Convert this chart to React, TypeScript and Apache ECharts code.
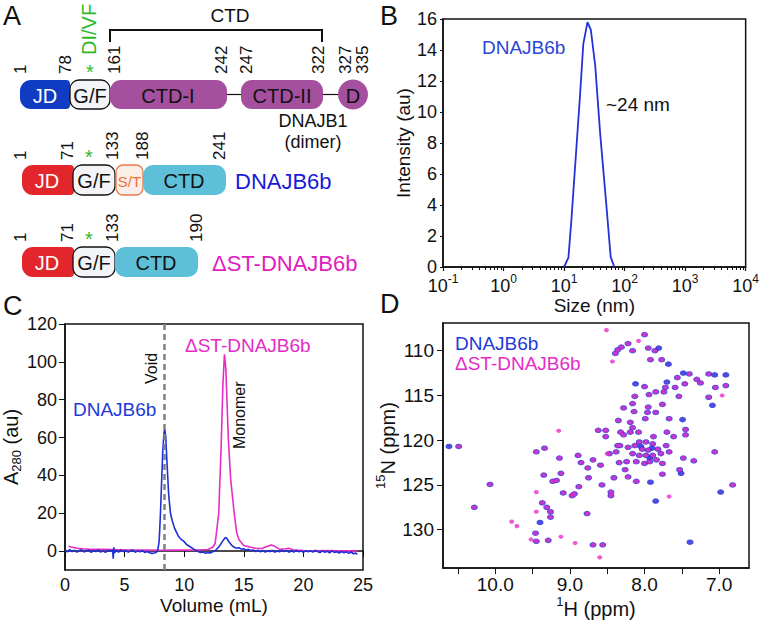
import React, { useEffect, useRef } from 'react';
import * as echarts from 'echarts';

const FONT = '"Liberation Sans", Arial, Helvetica, sans-serif';

// ---------- Panel A : domain maps ----------
const b1Residues = ['1', '78', '161', '242', '247', '322', '327', '335'];
const b6Residues = ['1', '71', '133', '188', '241'];
const dstResidues = ['1', '71', '133', '190'];
const b1DomainNames = ['JD', 'G/F', 'CTD-I', 'CTD-II', 'D'];
const b6DomainNames = ['JD', 'G/F', 'S/T', 'CTD'];
const dstDomainNames = ['JD', 'G/F', 'CTD'];
const rowNames = ['DNAJB1', '(dimer)', 'DNAJB6b', '\u0394ST-DNAJB6b'];

// ---------- Panel B : DLS ----------
const dlsSize = [10, 11.8, 13.2, 18.3, 20.8, 24.4, 27.7, 32.7, 39.5, 50.7, 58.9, 67.6];
const dlsIntensity = [0, 0.6, 3.0, 11.0, 14.4, 15.8, 15.3, 13.0, 8.6, 3.7, 0.65, 0];
const dlsMajorTicks = [0.1, 1, 10, 100, 1000, 10000];
const dlsYTicks = [0, 2, 4, 6, 8, 10, 12, 14, 16];

// ---------- Panel C : SEC ----------
const secYTicks = [0, 20, 40, 60, 80, 100, 120];
const voidVolume = 8.37;
const secDnajb6b: [number, number][] = [
  [0, 0.5], [0.2, -0.4], [0.4, 0.8], [0.6, -0.3], [0.8, 0.4], [1.0, -0.6], [1.2, 0.3], [1.4, 0.7], [1.6, -0.5], [1.8, 0.2],
  [2.0, 0.6], [2.2, -0.7], [2.4, 0.3], [2.6, -0.2], [2.8, 0.6], [3.0, -0.5], [3.2, 0.1], [3.4, -0.7], [3.6, 0.4], [3.8, -0.1],
  [4.0, 0.5], [4.05, -4.0], [4.1, 2.0], [4.15, -1.0], [4.3, 0.3], [4.5, -0.5], [4.7, 0.6], [4.9, -0.3], [5.1, 0.4], [5.3, -0.6],
  [5.5, 0.2], [5.7, 0.5], [5.9, -0.6], [6.1, 0.1], [6.3, -0.4], [6.5, 0.3], [6.7, -0.7], [6.9, -0.2], [7.1, -0.9], [7.3, -1.2],
  [7.5, -1.0], [7.7, -0.5], [7.8, 1.0], [7.9, 5], [8.0, 18], [8.1, 35], [8.2, 52], [8.3, 62], [8.37, 64.5], [8.45, 61],
  [8.55, 48], [8.7, 30], [8.85, 20], [9.0, 16], [9.2, 12], [9.5, 8], [9.7, 6.5], [10.0, 5], [10.2, 3.5], [10.5, 2.3],
  [10.8, 1.0], [11.0, 0.3], [11.2, -0.3], [11.4, -0.8], [11.6, -0.5], [11.8, -1.2], [12.0, -0.8], [12.2, -1.0], [12.4, -0.3], [12.6, 0.2],
  [12.8, 1.5], [13.0, 3], [13.2, 5], [13.4, 6.8], [13.5, 7.2], [13.6, 6.5], [13.8, 4.5], [14.0, 3], [14.2, 2], [14.4, 1.5],
  [14.6, 1.8], [14.8, 1.0], [15.0, 1.2], [15.2, 0.5], [15.4, 0.9], [15.6, 0.3], [15.8, 0.6], [16.0, -0.2], [16.2, 0.5], [16.4, -0.4],
  [16.6, 0.3], [16.8, -0.5], [17.0, 0.2], [17.2, -0.3], [17.4, 0.4], [17.6, -0.6], [17.8, 0.1], [18.0, -0.4], [18.2, 0.5], [18.4, -0.2],
  [18.6, 0.3], [18.8, -0.6], [19.0, 0.2], [19.2, -0.5], [19.4, 0.4], [19.6, -0.3], [19.8, 0.1], [20.0, -0.7], [20.2, 0.3], [20.4, -0.4],
  [20.6, 0.2], [20.8, -0.5], [21.0, 0.4], [21.2, -0.3], [21.4, -0.8], [21.6, 0.2], [21.8, -0.6], [22.0, -0.1], [22.2, -0.9], [22.4, 0.1],
  [22.6, -0.7], [22.8, -0.3], [23.0, -1.0], [23.2, -0.2], [23.4, -0.9], [23.6, -0.4], [23.8, -1.2], [24.0, -0.5], [24.2, -1.4], [24.4, -1.0],
  [24.5, -1.8],
];
const secDeltaST: [number, number][] = [
  [0.3, 2.5], [0.5, 2.2], [1, 1.5], [1.5, 1.2], [2, 1.0], [3, 0.9], [4, 0.8], [5, 0.6], [6, 0.5], [7, 0.5],
  [8, 0.4], [9, 0.5], [10, 0.6], [11, 0.5], [12, 0.8], [12.4, 2], [12.6, 4], [12.9, 20], [13.1, 55], [13.25, 88],
  [13.38, 104], [13.5, 96], [13.7, 60], [13.9, 38], [14.2, 20], [14.4, 10], [14.6, 6], [15.0, 3], [15.6, 2], [16, 1.5],
  [16.5, 1.4], [17, 2.5], [17.3, 3.2], [17.6, 2.5], [18, 1], [18.5, 1.2], [18.8, 1.5], [19.2, 0.5], [20, 0.3], [21, 0.2],
  [22, 0.3], [23, 0.1], [24, 0.2], [24.5, 0.1],
];

// ---------- Panel D : HSQC peaks [1H ppm, 15N ppm] ----------
const nmrHLabels = [10, 9, 8, 7];
const nmrHTicks = [10.5, 10, 9.5, 9, 8.5, 8, 7.5, 7];
const nmrNTicks = [110, 115, 120, 125, 130];
const nmrShared: [number, number][] = [
  [8.00, 108.2], [8.36, 109.9], [8.31, 109.6], [8.22, 109.2], [8.16, 110.0], [8.39, 110.3], [7.95, 109.7], [7.86, 110.0], [7.92, 111.0], [7.77, 111.0],
  [7.56, 113.0], [7.40, 112.6], [7.30, 113.2], [7.25, 113.6], [7.14, 112.6], [7.05, 114.1], [6.91, 113.9], [7.14, 115.2], [7.59, 114.1], [7.72, 114.1],
  [7.74, 114.6], [7.54, 115.1], [7.46, 113.7], [8.00, 114.0], [7.94, 114.9], [7.85, 114.6], [8.13, 115.1], [8.16, 115.9], [8.28, 116.4], [7.95, 116.3],
  [7.96, 116.9], [7.85, 116.9], [7.76, 116.0], [8.14, 116.8], [7.99, 117.6], [8.35, 117.8], [8.19, 118.0], [8.16, 118.6], [7.67, 117.6], [7.45, 118.8],
  [8.52, 118.9], [8.62, 118.9], [8.52, 119.6], [8.32, 119.1], [8.28, 119.4], [8.19, 119.1], [8.08, 119.1], [7.88, 119.6], [7.70, 119.1], [7.61, 119.6],
  [7.45, 119.4], [8.07, 120.2], [7.98, 120.2], [7.89, 120.4], [8.13, 120.6], [8.22, 120.8], [8.33, 120.6], [7.82, 121.0], [7.71, 120.6], [8.16, 121.5],
  [8.07, 121.7], [7.98, 121.7], [7.89, 121.7], [7.78, 121.5], [7.95, 121.1], [8.03, 121.0], [8.11, 122.4], [8.00, 122.6], [7.93, 122.4], [8.24, 122.4],
  [7.67, 121.3], [8.38, 121.3], [8.36, 120.6], [8.47, 121.5], [7.84, 122.2], [7.76, 122.6], [10.49, 120.7], [10.07, 124.95], [10.28, 127.5], [9.34, 120.9],
  [9.45, 121.3], [9.14, 122.0], [8.89, 121.7], [8.85, 122.5], [8.76, 123.1], [8.69, 122.2], [8.75, 124.2], [8.88, 125.2], [8.94, 126.0], [8.97, 126.2],
  [9.09, 125.9], [9.18, 124.5], [9.23, 124.6], [9.12, 123.7], [9.35, 123.9], [9.37, 127.0], [9.31, 127.5], [9.26, 128.0], [9.26, 128.6], [9.46, 130.4],
  [9.45, 131.3], [9.29, 131.2], [8.77, 128.2], [8.69, 131.7], [8.56, 131.7], [8.59, 122.8], [8.57, 125.0], [8.45, 125.8], [8.45, 126.2], [8.41, 124.2],
  [8.22, 124.1], [8.26, 123.3], [8.34, 122.5], [8.11, 124.6], [7.76, 123.8], [7.53, 123.3], [7.48, 122.0], [7.34, 122.3], [7.06, 121.3], [6.82, 125.0],
];
const nmrBlueOnly: [number, number][] = [
  [10.62, 120.7], [7.68, 111.5], [7.48, 112.5], [7.06, 112.7], [6.91, 112.7], [7.09, 116.1], [7.49, 117.7], [7.70, 113.5], [7.85, 126.8], [7.92, 124.7],
  [7.51, 123.7], [6.98, 125.8], [7.39, 131.4], [9.40, 129.2], [7.81, 109.7], [8.12, 113.7], [7.90, 120.9], [8.05, 120.7], [7.93, 122.0],
];
const nmrMagentaOnly: [number, number][] = [
  [8.51, 107.7], [8.43, 111.2], [8.08, 108.9], [9.45, 128.0], [9.78, 129.1], [9.71, 129.6], [9.52, 131.1], [9.12, 130.8], [8.93, 131.5], [8.60, 133.1],
  [9.45, 125.8], [9.15, 118.95], [7.67, 126.3], [6.96, 115.0], [8.50, 121.5],
];

// ---------- colours ----------
const BLUE = '#1f2fd6';
const MAGENTA = '#e52cc6';
const GREEN = '#2eb82e';
const BLACK = '#111111';

function text(t: string, x: number, y: number, size: number, fill: string, opts: any = {}) {
  return {
    type: 'text',
    x,
    y,
    rotation: opts.rot || 0,
    z: 20,
    style: {
      text: t,
      fontSize: size,
      fontFamily: FONT,
      fill,
      align: opts.align || 'center',
      verticalAlign: opts.va || 'middle',
      rich: opts.rich,
    },
  };
}
function box(x: number, y: number, w: number, h: number, fill: string, r: any, stroke?: string) {
  return {
    type: 'rect',
    z: 10,
    shape: { x, y, width: w, height: h, r },
    style: { fill, stroke: stroke || 'none', lineWidth: stroke ? 1.3 : 0 },
  };
}
function hline(x1: number, x2: number, y: number, w = 1.2) {
  return { type: 'line', z: 9, shape: { x1, y1: y, x2, y2: y }, style: { stroke: BLACK, lineWidth: w } };
}

function buildPanelA(): any[] {
  const g: any[] = [];
  const ROT = Math.PI / 2;
  // Row 1: DNAJB1
  const y1 = 80, h = 29;
  g.push(hline(226, 242, y1 + h / 2), hline(322, 340, y1 + h / 2));
  g.push(box(20, y1, 50, h, '#0f3cc2', [11, 4, 4, 11]));
  g.push(box(70, y1, 40, h, '#f3f4f7', 9, BLACK));
  g.push(box(110, y1, 117, h, '#a4509e', 11));
  g.push(box(241, y1, 82, h, '#a4509e', 11));
  g.push({ type: 'circle', z: 10, shape: { cx: 353, cy: y1 + h / 2, r: 15 }, style: { fill: '#a4509e' } });
  const b1Cx = [45, 90, 168, 282, 353];
  const b1Fill = ['#ffffff', BLACK, BLACK, BLACK, BLACK];
  b1DomainNames.forEach((n, i) => g.push(text(n, b1Cx[i], y1 + h / 2 + 1, 20, b1Fill[i])));
  const b1X = [20, 65, 114, 221, 246, 318, 345, 362];
  b1Residues.forEach((r, i) => g.push(text(r, b1X[i], 74, 17, BLACK, { rot: ROT, align: 'left' })));
  g.push(text('*', 90, 72, 20, GREEN));
  g.push(text('DI/VF', 89, 55, 20, GREEN, { rot: ROT, align: 'left' }));
  g.push({ type: 'polyline', z: 9, shape: { points: [[110, 42], [110, 30], [322, 30], [322, 42]] }, style: { stroke: BLACK, lineWidth: 2, fill: 'none' } });
  g.push(text('CTD', 230, 15, 19, BLACK));
  g.push(text(rowNames[0], 313, 121, 18, BLACK));
  g.push(text(rowNames[1], 313, 142, 18, BLACK));

  // Row 2: DNAJB6b
  const y2 = 165;
  g.push(box(22, y2, 52, 30, '#e2262b', [11, 4, 4, 11]));
  g.push(box(73, y2, 42, 30, '#f3f4f7', 9, BLACK));
  g.push(box(116, y2, 27, 30, '#fbeee9', 7, '#ec7a4a'));
  g.push(box(143, y2, 83, 30, '#5ec0d8', 10));
  const b6Cx = [47, 94, 129.5, 184];
  const b6Fill = ['#ffffff', BLACK, '#ec7040', BLACK];
  const b6Size = [20, 20, 15, 20];
  b6DomainNames.forEach((n, i) => g.push(text(n, b6Cx[i], y2 + 16, b6Size[i], b6Fill[i])));
  const b6X = [20, 67, 112, 142, 219];
  b6Residues.forEach((r, i) => g.push(text(r, b6X[i], 160, 17, BLACK, { rot: ROT, align: 'left' })));
  g.push(text('*', 89, 157, 20, GREEN));
  g.push(text(rowNames[2], 235, y2 + 16, 22, '#1a1adb', { align: 'left' }));

  // Row 3: dST-DNAJB6b
  const y3 = 247;
  g.push(box(22, y3, 52, 30, '#e2262b', [11, 4, 4, 11]));
  g.push(box(73, y3, 42, 30, '#f3f4f7', 9, BLACK));
  g.push(box(115, y3, 83, 30, '#5ec0d8', 10));
  const dCx = [47, 94, 156];
  const dFill = ['#ffffff', BLACK, BLACK];
  dstDomainNames.forEach((n, i) => g.push(text(n, dCx[i], y3 + 16, 20, dFill[i])));
  const dX = [20, 67, 112, 196];
  dstResidues.forEach((r, i) => g.push(text(r, dX[i], 242, 17, BLACK, { rot: ROT, align: 'left' })));
  g.push(text('*', 89, 239, 20, GREEN));
  g.push(text(rowNames[3], 212, y3 + 16, 22, '#e020c0', { align: 'left' }));
  return g;
}

function buildAnnotations(): any[] {
  return [
    text('A', 3, 16, 27, BLACK, { align: 'left' }),
    text('B', 380, 16, 27, BLACK, { align: 'left' }),
    text('C', 3, 306, 27, BLACK, { align: 'left' }),
    text('D', 380, 304, 27, BLACK, { align: 'left' }),
    text('DNAJB6b', 482, 47, 19, '#2a45d8', { align: 'left' }),
    text('~24 nm', 606, 104, 19, BLACK, { align: 'left' }),
    text('DNAJB6b', 73, 409, 19, '#1f3ad8', { align: 'left' }),
    text('\u0394ST-DNAJB6b', 185, 345, 19, MAGENTA, { align: 'left' }),
    text('Void', 151, 384, 16, BLACK, { rot: Math.PI / 2, align: 'left' }),
    text('Monomer', 239, 449, 16, BLACK, { rot: Math.PI / 2, align: 'left' }),
    text('DNAJB6b', 455, 343, 19, '#1f3ad8', { align: 'left' }),
    text('\u0394ST-DNAJB6b', 455, 363, 19, MAGENTA, { align: 'left' }),
  ];
}

const axisLine = { show: true, lineStyle: { color: BLACK, width: 1.5 } };
const labelBase = { color: BLACK, fontSize: 18, fontFamily: FONT };
const nameBase = { color: BLACK, fontSize: 19, fontFamily: FONT };

export default function App() {
  const ref = useRef<HTMLDivElement>(null);
  useEffect(() => {
    if (!ref.current) return;
    const chart = echarts.init(ref.current, undefined, { renderer: 'svg' });
    const option: any = {
      animation: false,
      backgroundColor: '#ffffff',
      textStyle: { fontFamily: FONT },
      grid: [
        { left: 443, top: 19, width: 305, height: 248, show: true, borderColor: BLACK, borderWidth: 1.5, backgroundColor: 'transparent' },
        { left: 60, top: 324, width: 303, height: 246, show: true, borderColor: BLACK, borderWidth: 1.5, backgroundColor: 'transparent' },
        { left: 443, top: 323, width: 306, height: 248, show: true, borderColor: BLACK, borderWidth: 1.5, backgroundColor: 'transparent' },
      ],
      xAxis: [
        {
          gridIndex: 0, type: 'log', logBase: 10, min: 0.1, max: 10000,
          axisLine,
          axisTick: { show: true, inside: false, length: 4, lineStyle: { color: BLACK, width: 1.2 } },
          minorTick: { show: true, splitNumber: 9, length: 3, lineStyle: { color: BLACK, width: 1 } },
          axisLabel: {
            ...labelBase, margin: 6, customValues: dlsMajorTicks,
            formatter: (v: number) => `{b|10}{s|${Math.round(Math.log10(v))}}`,
            rich: {
              b: { fontSize: 18, color: BLACK, fontFamily: FONT, lineHeight: 22, verticalAlign: 'bottom' },
              s: { fontSize: 12, color: BLACK, fontFamily: FONT, lineHeight: 14, verticalAlign: 'top' },
            },
          },
          splitLine: { show: false },
          minorSplitLine: { show: false },
          name: 'Size (nm)', nameLocation: 'middle', nameGap: 20, nameTextStyle: nameBase,
        },
        {
          gridIndex: 1, type: 'value', min: 0, max: 25, interval: 5,
          axisLine,
          axisTick: { show: true, inside: false, length: 6, lineStyle: { color: BLACK } },
          axisLabel: { ...labelBase, margin: 6 },
          splitLine: { show: false },
          name: 'Volume (mL)', nameLocation: 'middle', nameGap: 26, nameTextStyle: nameBase,
        },
        {
          gridIndex: 2, type: 'value', inverse: true, min: 6.6, max: 10.7,
          axisLine,
          axisTick: { show: true, inside: false, length: 6, customValues: nmrHTicks, lineStyle: { color: BLACK } },
          axisLabel: { ...labelBase, fontSize: 19, margin: 7, customValues: nmrHLabels, formatter: (v: number) => v.toFixed(1) },
          splitLine: { show: false },
          name: '{s|1}{n|H (ppm)}', nameLocation: 'middle', nameGap: 22,
          nameTextStyle: {
            ...nameBase,
            rich: {
              s: { fontSize: 13, color: BLACK, fontFamily: FONT, lineHeight: 14, verticalAlign: 'top' },
              n: { fontSize: 20, color: BLACK, fontFamily: FONT, lineHeight: 24, verticalAlign: 'bottom' },
            },
          },
        },
      ],
      yAxis: [
        {
          gridIndex: 0, type: 'value', min: 0, max: 16, interval: 2,
          axisLine,
          axisTick: { show: true, inside: false, length: 3, customValues: dlsYTicks, lineStyle: { color: BLACK } },
          axisLabel: { ...labelBase, fontSize: 18, margin: 6 },
          splitLine: { show: false },
          name: 'Intensity (au)', nameLocation: 'middle', nameGap: 28, nameTextStyle: nameBase,
        },
        {
          gridIndex: 1, type: 'value', min: -10, max: 120,
          axisLine,
          axisTick: { show: true, inside: false, length: 6, customValues: secYTicks, lineStyle: { color: BLACK } },
          axisLabel: { ...labelBase, margin: 8, customValues: secYTicks },
          splitLine: { show: false },
          name: '{a|A}{b|280}{a| (au)}', nameLocation: 'middle', nameGap: 36,
          nameTextStyle: {
            ...nameBase,
            rich: {
              a: { fontSize: 20, color: BLACK, fontFamily: FONT, lineHeight: 22, verticalAlign: 'top' },
              b: { fontSize: 13, color: BLACK, fontFamily: FONT, lineHeight: 14, verticalAlign: 'bottom' },
            },
          },
        },
        {
          gridIndex: 2, type: 'value', inverse: true, min: 106.9, max: 134.3,
          axisLine,
          axisTick: { show: true, inside: false, length: 6, customValues: nmrNTicks, lineStyle: { color: BLACK } },
          axisLabel: { ...labelBase, fontSize: 19, margin: 9, customValues: nmrNTicks },
          splitLine: { show: false },
          name: '{s|15}{n|N (ppm)}', nameLocation: 'middle', nameGap: 44,
          nameTextStyle: {
            ...nameBase,
            rich: {
              s: { fontSize: 13, color: BLACK, fontFamily: FONT, lineHeight: 14, verticalAlign: 'top' },
              n: { fontSize: 20, color: BLACK, fontFamily: FONT, lineHeight: 24, verticalAlign: 'bottom' },
            },
          },
        },
      ],
      series: [
        {
          type: 'line', xAxisIndex: 0, yAxisIndex: 0, symbol: 'none',
          data: dlsSize.map((s, i) => [s, dlsIntensity[i]]),
          lineStyle: { color: '#2233d8', width: 1.8 },
        },
        {
          type: 'line', xAxisIndex: 1, yAxisIndex: 1, symbol: 'none', data: secDeltaST,
          lineStyle: { color: MAGENTA, width: 1.6 },
        },
        {
          type: 'line', xAxisIndex: 1, yAxisIndex: 1, symbol: 'none', data: secDnajb6b,
          lineStyle: { color: BLUE, width: 1.6 },
          markLine: {
            silent: true, symbol: ['none', 'none'], label: { show: false },
            lineStyle: { type: [6, 4], color: '#808080', width: 2.5 },
            data: [{ xAxis: voidVolume }],
          },
        },
        {
          type: 'scatter', xAxisIndex: 2, yAxisIndex: 2, symbol: 'circle', symbolSize: [7, 5.5],
          data: nmrShared.concat(nmrBlueOnly), itemStyle: { color: '#1b22d6' },
        },
        {
          type: 'scatter', xAxisIndex: 2, yAxisIndex: 2, symbol: 'circle', symbolSize: [5, 4.2],
          data: nmrShared.concat(nmrMagentaOnly), itemStyle: { color: '#e830c8' },
        },
      ],
      graphic: [...buildPanelA(), ...buildAnnotations()],
    };
    chart.setOption(option);
    return () => chart.dispose();
  }, []);
  return <div ref={ref} style={{ position: 'absolute', left: 0, top: 0, width: 762, height: 620 }} />;
}
